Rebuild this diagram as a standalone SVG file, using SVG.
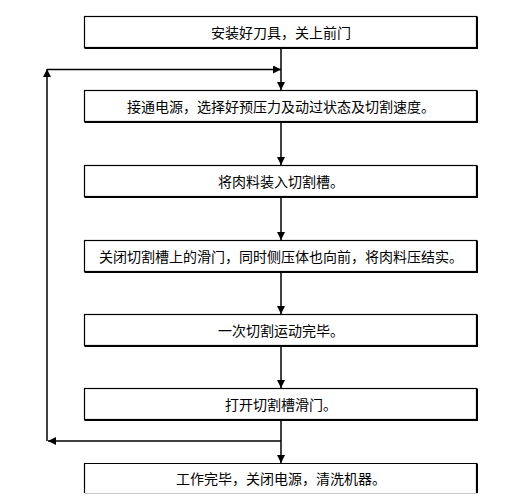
<svg xmlns="http://www.w3.org/2000/svg" width="523" height="504" viewBox="0 0 523 504">
<style>
.box{fill:#fff;stroke:#000;stroke-width:1.2}
.sh{fill:none;stroke:#000;stroke-width:1.4}
.lbl{font-family:"Noto Sans CJK SC","Liberation Sans",sans-serif;font-size:14px;fill:#000;text-anchor:middle;dominant-baseline:central}
.c{fill:none;stroke:#000;stroke-width:1.5}
</style>
<defs>
<marker id="ah" viewBox="0 0 10 10" refX="10" refY="5" markerWidth="8" markerHeight="8" markerUnits="userSpaceOnUse" orient="auto">
<path d="M0,0 L10,5 L0,10 z" fill="#000"/>
</marker>
</defs>
<rect width="523" height="504" fill="#fff"/>
<g id="connectors">
<path class="c" d="M281,48 V90" marker-end="url(#ah)"/>
<path class="c" d="M281,122 V165" marker-end="url(#ah)"/>
<path class="c" d="M281,197 V240" marker-end="url(#ah)"/>
<path class="c" d="M281,272 V314" marker-end="url(#ah)"/>
<path class="c" d="M281,346 V388" marker-end="url(#ah)"/>
<path class="c" d="M281,420 V463" marker-end="url(#ah)"/>
<path class="c" d="M281,441 H48" marker-end="url(#ah)"/>
<path class="c" d="M47,441 V69" marker-end="url(#ah)"/>
<path class="c" d="M47,69.5 H281" marker-end="url(#ah)"/>
</g>
<g id="n1">
<rect class="box" x="84.5" y="16.5" width="392" height="31"/>
<path class="sh" d="M477.3,16.5 V48.3 H84.5"/>
<text class="lbl" x="281" y="32">安装好刀具，关上前门</text>
</g>
<g id="n2">
<rect class="box" x="84.5" y="90.5" width="392" height="31"/>
<path class="sh" d="M477.3,90.5 V122.3 H84.5"/>
<text class="lbl" x="281" y="106">接通电源，选择好预压力及动过状态及切割速度。</text>
</g>
<g id="n3">
<rect class="box" x="84.5" y="165.5" width="392" height="31"/>
<path class="sh" d="M477.3,165.5 V197.3 H84.5"/>
<text class="lbl" x="281" y="181">将肉料装入切割槽。</text>
</g>
<g id="n4">
<rect class="box" x="84.5" y="240.5" width="392" height="31"/>
<path class="sh" d="M477.3,240.5 V272.3 H84.5"/>
<text class="lbl" x="281" y="256">关闭切割槽上的滑门，同时侧压体也向前，将肉料压结实。</text>
</g>
<g id="n5">
<rect class="box" x="84.5" y="314.5" width="392" height="31"/>
<path class="sh" d="M477.3,314.5 V346.3 H84.5"/>
<text class="lbl" x="281" y="330">一次切割运动完毕。</text>
</g>
<g id="n6">
<rect class="box" x="84.5" y="388.5" width="392" height="31"/>
<path class="sh" d="M477.3,388.5 V420.3 H84.5"/>
<text class="lbl" x="281" y="404">打开切割槽滑门。</text>
</g>
<g id="n7">
<path fill="#fff" stroke="#000" stroke-width="1.2" d="M84.5,493 V463.5 H476.5 V493"/>
<path class="sh" d="M477.3,463.5 V493"/>
<path fill="none" stroke="#c8c8c8" stroke-width="1.2" d="M84.5,493.5 H477.5"/>
<text class="lbl" x="281" y="478">工作完毕，关闭电源，清洗机器。</text>
</g>
</svg>
